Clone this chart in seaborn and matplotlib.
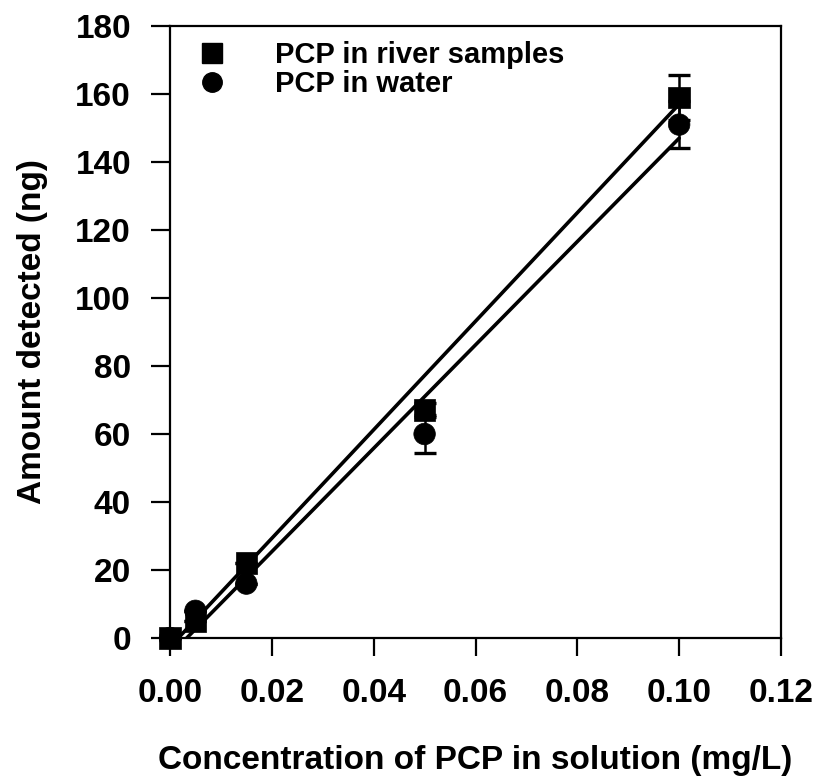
import matplotlib
matplotlib.use("Agg")
import matplotlib.pyplot as plt
from matplotlib.lines import Line2D
import seaborn as sns
import pandas as pd

# Data
conc = [0.0, 0.005, 0.015, 0.05, 0.10]
river = [0.0, 5.0, 22.0, 67.0, 159.0]
water = [0.0, 8.0, 16.0, 60.0, 151.0]
river_err = [0.0, 0.0, 0.0, 2.0, 6.5]
water_err = [0.0, 0.0, 0.0, 5.5, 7.0]

fit_x = [0.0, 0.10]
river_fit = [-2.6, 157.0]
water_fit = [-5.0, 147.0]

labels = ["PCP in river samples", "PCP in water"]
xticks = [0.00, 0.02, 0.04, 0.06, 0.08, 0.10, 0.12]
yticks = [0, 20, 40, 60, 80, 100, 120, 140, 160, 180]

sns.set_theme(style="ticks")
plt.rcParams['font.family'] = ['Liberation Sans', 'DejaVu Sans']
plt.rcParams['font.weight'] = 'bold'
plt.rcParams['text.color'] = 'black'
plt.rcParams['axes.labelcolor'] = 'black'

fig = plt.figure(figsize=(8.19, 7.81), dpi=100)
ax = fig.add_axes([170/819, 1-638/781, (781-170)/819, (638-26)/781])

pts = pd.DataFrame({
    "conc": conc + conc,
    "amount": river + water,
    "series": [labels[0]]*len(conc) + [labels[1]]*len(conc),
})
fits = pd.DataFrame({
    "x": fit_x + fit_x,
    "y": river_fit + water_fit,
    "series": [labels[0]]*2 + [labels[1]]*2,
})

sns.lineplot(data=fits, x="x", y="y", units="series", estimator=None,
             color="black", lw=2.6, ax=ax, legend=False)

ax.errorbar(conc, river, yerr=river_err, fmt="none", ecolor="black",
            elinewidth=1.8, capsize=8, capthick=2.4, clip_on=False, zorder=3)
ax.errorbar(conc, water, yerr=water_err, fmt="none", ecolor="black",
            elinewidth=1.8, capsize=8, capthick=2.4, clip_on=False, zorder=3)

sns.scatterplot(data=pts, x="conc", y="amount", style="series",
                markers={labels[0]: "s", labels[1]: "o"},
                hue="series", palette={labels[0]: "black", labels[1]: "black"},
                s=240, edgecolor="black", linewidth=0.5, ax=ax, legend=False,
                clip_on=False, zorder=4)

ax.set_xlim(0, 0.12)
ax.set_ylim(0, 180)
ax.set_xticks(xticks)
ax.set_xticklabels([f"{v:.2f}" for v in xticks])
ax.set_yticks(yticks)
ax.set_yticklabels([str(v) for v in yticks])

for s in ax.spines.values():
    s.set_linewidth(1.6)
    s.set_color("black")
ax.tick_params(axis="x", direction="out", length=13, width=1.6, pad=16,
               labelsize=24, colors="black")
ax.tick_params(axis="y", direction="out", length=14, width=1.6, pad=14,
               labelsize=24, colors="black")
for t in ax.get_xticklabels() + ax.get_yticklabels():
    t.set_fontweight("bold")

ax.set_xlabel("Concentration of PCP in solution (mg/L)", fontsize=24,
              fontweight="bold", labelpad=26, color="black")
ax.set_ylabel("Amount detected (ng)", fontsize=24, fontweight="bold",
              labelpad=20, color="black")

handles = [
    Line2D([], [], marker="s", color="black", linestyle="none", markersize=14),
    Line2D([], [], marker="o", color="black", linestyle="none", markersize=14),
]
leg = ax.legend(handles, labels, loc="upper left", bbox_to_anchor=(0.026, 0.995),
                frameon=False, fontsize=21, handlelength=1.0, handletextpad=1.65,
                labelspacing=0.05, borderaxespad=0)
for t in leg.get_texts():
    t.set_fontweight("bold")
    t.set_color("black")

fig.savefig("out.png", dpi=100)
